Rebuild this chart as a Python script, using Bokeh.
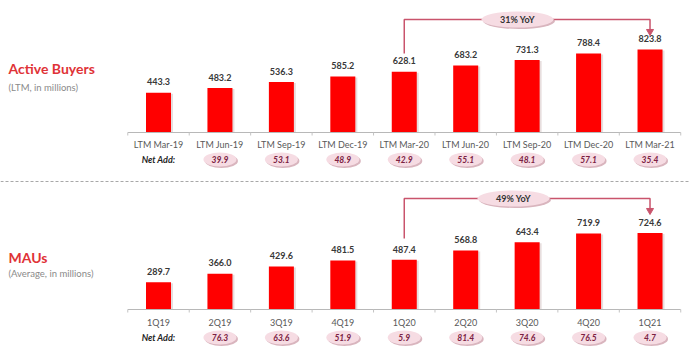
import math
from bokeh.plotting import figure
from bokeh.layouts import column
from bokeh.models import Range1d
from bokeh.core.properties import value
from bokeh.embed import file_html
from bokeh.resources import INLINE

# ---------------- data ----------------
buyer_periods = ["LTM Mar-19", "LTM Jun-19", "LTM Sep-19", "LTM Dec-19", "LTM Mar-20",
                 "LTM Jun-20", "LTM Sep-20", "LTM Dec-20", "LTM Mar-21"]
buyer_values = [443.3, 483.2, 536.3, 585.2, 628.1, 683.2, 731.3, 788.4, 823.8]
buyer_net_add = [None, 39.9, 53.1, 48.9, 42.9, 55.1, 48.1, 57.1, 35.4]
buyer_yoy = "31% YoY"

mau_quarters = ["1Q19", "2Q19", "3Q19", "4Q19", "1Q20", "2Q20", "3Q20", "4Q20", "1Q21"]
mau_values = [289.7, 366.0, 429.6, 481.5, 487.4, 568.8, 643.4, 719.9, 724.6]
mau_net_add = [None, 76.3, 63.6, 51.9, 5.9, 81.4, 74.6, 76.5, 4.7]
mau_yoy = "49% YoY"

# ---------------- layout / style ----------------
W = 689
CAT_W = 61.44        # px per category
FIRST_CX = 158       # px from figure left to first bar centre
PX_PER_UNIT = 0.1135 # vertical px per value unit
FONT = value("Lato")
RED = "#ff0000"
TITLE_RED = "#df3337"
PINK_LINE = "#c9546c"
ELL_FILL = "#f6dce3"
ELL_SHADOW = "#cfa3ae"


def make_panel(title, subtitle, cats, vals, net, yoy, top_px, H, base_val, base_px,
               title_y, sub_y, cat_y, net_y, br_y, br_left_end, arrow_tip, yoy_px,
               sep_y=None):
    """All *_y / *_px layout positions are page pixels; top_px is the panel's top edge."""
    upp = 1.0 / PX_PER_UNIT
    y_end = base_val + (base_px - top_px) * upp
    y_start = y_end - H * upp
    x_start = -FIRST_CX / CAT_W
    x_end = x_start + W / CAT_W

    def xd(px):
        return x_start + px / CAT_W

    def yd(px):
        return y_end - (px - top_px) * upp

    p = figure(width=W, height=H, x_range=Range1d(x_start, x_end),
               y_range=Range1d(y_start, y_end), output_backend="svg",
               toolbar_location=None, x_axis_location=None, y_axis_location=None,
               min_border=0, outline_line_color=None)
    p.background_fill_color = "white"
    p.border_fill_color = "white"
    p.xgrid.visible = False
    p.ygrid.visible = False

    xs = list(range(len(cats)))
    n = len(cats)

    # titles
    p.text([xd(8)], [yd(title_y)], text=[title], text_font=FONT, text_font_style="bold",
           text_font_size="14px", text_color=TITLE_RED, text_align="left", text_baseline="middle")
    p.text([xd(8)], [yd(sub_y)], text=[subtitle], text_font=FONT,
           text_font_size="9.5px", text_color="#8a8a8a", text_align="left", text_baseline="middle")

    # bars with light shadow
    p.vbar(x=[x + 2 / CAT_W for x in xs], top=[v - 1 * upp for v in vals], bottom=base_val,
           width=25 / CAT_W, fill_color="#b9a0a0", fill_alpha=0.35, line_color=None)
    p.vbar(x=xs, top=vals, bottom=base_val, width=25 / CAT_W, fill_color=RED, line_color=None)

    # value labels
    p.text(xs, [v + 10.8 * upp for v in vals], text=[f"{v:.1f}" for v in vals], text_font=FONT,
           text_font_style="bold", text_font_size="9px", text_color="#383838",
           text_align="center", text_baseline="middle")

    # axis line + small ticks at category boundaries
    p.line([-0.5, n - 0.5], [base_val, base_val], line_color="#b8b8b8", line_width=1)
    bxs = [i - 0.5 for i in range(n + 1)]
    p.scatter(bxs, [base_val - 1.5 * upp] * len(bxs), marker="dash", angle=math.pi / 2,
              size=3, line_color="#c4c4c4", line_width=1)

    # category labels
    p.text(xs, [yd(cat_y)] * n, text=cats, text_font=FONT, text_font_size="9px",
           text_color="#595959", text_align="center", text_baseline="middle")

    # net add row
    p.text([0], [yd(net_y)], text=["Net Add:"], text_font=FONT, text_font_style="bold italic",
           text_font_size="9px", text_color="#1f1f1f", text_align="center", text_baseline="middle")
    nx = [i for i in xs if net[i] is not None]
    nv = [net[i] for i in nx]
    p.ellipse(x=[x + 1.5 / CAT_W for x in nx], y=[yd(net_y + 1.5)] * len(nx), width=33, height=14,
              width_units="screen", height_units="screen", fill_color=ELL_SHADOW,
              fill_alpha=0.8, line_color=None)
    p.ellipse(x=nx, y=[yd(net_y)] * len(nx), width=33, height=14,
              width_units="screen", height_units="screen", fill_color=ELL_FILL, line_color=None)
    p.text(nx, [yd(net_y)] * len(nx), text=[f"{v:.1f}" for v in nv], text_font=FONT,
           text_font_style="bold italic", text_font_size="8.5px", text_color="#7b2142",
           text_align="center", text_baseline="middle")

    # YoY bracket
    i0, i1 = n - 5, n - 1
    p.line([i0, i0, i1, i1], [yd(br_left_end), yd(br_y), yd(br_y), yd(arrow_tip - 4)],
           line_color=PINK_LINE, line_width=1.5)
    p.scatter([i1], [yd(arrow_tip - 3)], marker="inverted_triangle", size=7,
              fill_color=PINK_LINE, line_color=PINK_LINE)
    p.ellipse(x=[xd(yoy_px) + 1.5 / CAT_W], y=[yd(br_y + 1.5)], width=72, height=16,
              width_units="screen", height_units="screen", fill_color=ELL_SHADOW,
              fill_alpha=0.8, line_color=None)
    p.ellipse(x=[xd(yoy_px)], y=[yd(br_y)], width=72, height=16,
              width_units="screen", height_units="screen", fill_color=ELL_FILL, line_color=None)
    p.text([xd(yoy_px)], [yd(br_y)], text=[yoy], text_font=FONT, text_font_style="bold",
           text_font_size="9px", text_color="#333333", text_align="center", text_baseline="middle")

    if sep_y is not None:
        p.line([x_start, x_end], [yd(sep_y), yd(sep_y)],
               line_color="#a8a8a8", line_width=1, line_dash="3 2")
    return p


top = make_panel("Active Buyers", "(LTM, in millions)", buyer_periods, buyer_values,
                 buyer_net_add, buyer_yoy, top_px=0, H=183, base_val=92, base_px=132,
                 title_y=68, sub_y=87, cat_y=144, net_y=159, br_y=19, br_left_end=53,
                 arrow_tip=34, yoy_px=517, sep_y=181)
bottom = make_panel("MAUs", "(Average, in millions)", mau_quarters, mau_values,
                    mau_net_add, mau_yoy, top_px=183, H=176, base_val=50, base_px=309,
                    title_y=257, sub_y=273, cat_y=322, net_y=337, br_y=198, br_left_end=238,
                    arrow_tip=213, yoy_px=513)

layout = column(top, bottom, spacing=0)
open("out.html", "w").write(file_html(layout, INLINE))
